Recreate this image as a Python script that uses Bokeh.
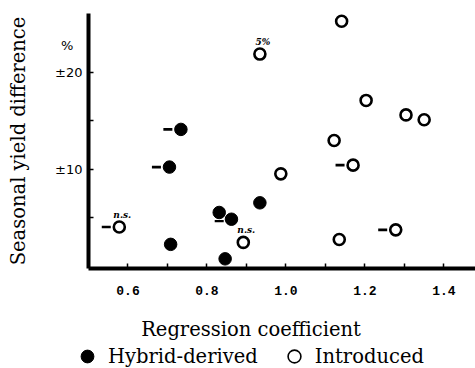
from bokeh.plotting import figure
from bokeh.layouts import column
from bokeh.models import Range1d, FixedTicker, Legend, LegendItem, PrintfTickFormatter
from bokeh.transform import dodge
from bokeh.core.properties import value
from bokeh.embed import file_html
from bokeh.resources import INLINE

# ---- data ----
hyb_x = [0.734, 0.705, 0.934, 0.831, 0.862, 0.708, 0.846]
hyb_y = [14.1, 10.2, 6.5, 5.5, 4.8, 2.2, 0.7]

intro_x = [0.578, 0.934, 0.892, 0.987, 1.141, 1.203, 1.304, 1.350, 1.122, 1.170, 1.278, 1.135]
intro_y = [4.0, 21.9, 2.4, 9.5, 25.3, 17.1, 15.6, 15.1, 12.95, 10.4, 3.7, 2.7]

# points carrying a minus sign written to their left
neg_x = [0.734, 0.705, 0.578, 1.170, 1.278]
neg_y = [14.1, 10.2, 4.0, 10.4, 3.7]
# point carrying a minus sign written below it
negb_x = [0.831]
negb_y = [5.5]

# significance notes
note_x = [0.578, 0.934, 0.892]
note_y = [4.0, 21.9, 2.4]
note_text = ["n.s.", "5%", "n.s."]

x_ticks = [0.6, 0.8, 1.0, 1.2, 1.4]
x_minor = [0.7, 0.9, 1.1, 1.3]
# y labels (the unit sign sits above the top label); tick marks at every 5
y_label_pos = [10, 20, 22.8]
y_tick_labels = {10: "±10", 20: "±20", 22.8: "%\u2002\u2009"}
y_marks = [5, 10, 15, 20]

legend_labels = ["Hybrid-derived", "Introduced"]

SERIF = "DejaVu Serif"
SERIF_SIZE = "19.5px"

p = figure(frame_width=387, frame_height=255,
           x_range=Range1d(0.5, 1.48), y_range=Range1d(-0.3, 26.1),
           output_backend="svg", toolbar_location=None,
           min_border_left=88, min_border_right=0,
           min_border_top=13, min_border_bottom=75)
p.outline_line_color = None
p.grid.visible = False
p.background_fill_color = "white"
p.border_fill_color = "white"

# axes
p.xaxis.ticker = FixedTicker(ticks=x_ticks, minor_ticks=x_minor)
p.xaxis.formatter = PrintfTickFormatter(format="%.1f")
p.yaxis.ticker = FixedTicker(ticks=y_label_pos, minor_ticks=y_marks)
p.yaxis.major_label_overrides = y_tick_labels
for ax in (p.xaxis, p.yaxis):
    ax.axis_line_width = 4
    ax.axis_line_color = "black"
    ax.major_tick_in = 5
    ax.major_tick_out = 0
    ax.minor_tick_in = 5
    ax.minor_tick_out = 0
    ax.major_tick_line_width = 1.5
    ax.minor_tick_line_width = 1.5
    ax.axis_label_text_font = SERIF
    ax.axis_label_text_font_size = SERIF_SIZE
    ax.axis_label_text_font_style = "normal"
    ax.axis_label_text_color = "black"
    ax.major_label_text_color = "black"
p.yaxis.major_tick_in = 0

# trailing no-break spaces shift the centred label left, as in the original
p.xaxis.axis_label = "Regression coefficient" + "\u00a0" * 10
p.xaxis.major_label_text_font = "Liberation Mono"
p.xaxis.major_label_text_font_style = "bold"
p.xaxis.major_label_text_font_size = "13px"
p.xaxis.major_label_standoff = 17
p.xaxis.axis_label_standoff = 20

p.yaxis.axis_label = "Seasonal yield difference"
p.yaxis.major_label_text_font = "DejaVu Sans"
p.yaxis.major_label_text_font_size = "13px"
p.yaxis.major_label_orientation = "horizontal"
p.yaxis.major_label_standoff = 6
p.yaxis.axis_label_standoff = 22

HYB_STYLE = dict(marker="circle", fill_color="black", line_color="black", line_width=1)
INT_STYLE = dict(marker="circle", fill_color="white", line_color="black", line_width=2.6)

# points
p.scatter(hyb_x, hyb_y, size=12.5, **HYB_STYLE)
p.scatter(intro_x, intro_y, size=11, **INT_STYLE)

# minus signs
p.scatter(x=dodge("x", -0.033, range=p.x_range), y="y",
          source=dict(x=neg_x, y=neg_y), marker="dash", size=9,
          line_color="black", line_width=2.6)
p.scatter(x="x", y=dodge("y", -0.9, range=p.y_range),
          source=dict(x=negb_x, y=negb_y), marker="dash", size=9,
          line_color="black", line_width=2.2)

# notes
p.text(x=note_x, y=note_y, text=note_text, x_offset=3, y_offset=-12,
       text_align="center", text_baseline="middle",
       text_font=value(SERIF), text_font_size="9px",
       text_font_style="bold italic", text_color="black")

# ---- legend strip below the plot ----
# (its sample renderers hold one point of each series, kept outside the strip's view)
leg = figure(frame_width=475, frame_height=25, min_border=0,
             x_range=Range1d(2, 3), y_range=Range1d(100, 101),
             x_axis_type=None, y_axis_type=None,
             output_backend="svg", toolbar_location=None)
leg.outline_line_color = None
leg.grid.visible = False
lr_h = leg.scatter(x=hyb_x[:1], y=hyb_y[:1], size=13, **HYB_STYLE)
lr_i = leg.scatter(x=intro_x[:1], y=intro_y[:1], size=12,
                   **{**INT_STYLE, "line_width": 1.6})
legend = Legend(items=[LegendItem(label=legend_labels[0], renderers=[lr_h]),
                       LegendItem(label=legend_labels[1], renderers=[lr_i])],
                orientation="horizontal", location=(71, -4),
                label_text_font=SERIF, label_text_font_size=SERIF_SIZE,
                label_text_color="black",
                border_line_color=None, background_fill_alpha=0,
                margin=0, padding=0, spacing=20, label_standoff=5,
                glyph_width=32, glyph_height=32)
leg.add_layout(legend, "center")

layout = column(p, leg, spacing=0)
open("out.html", "w").write(file_html(layout, INLINE))
